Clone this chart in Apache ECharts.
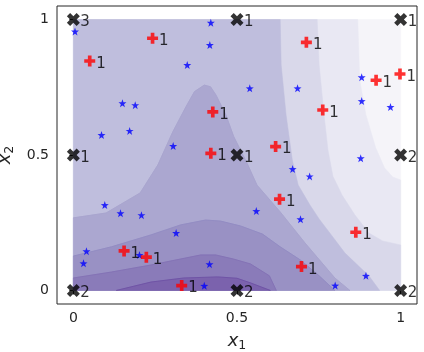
<!DOCTYPE html>
<html><head><meta charset="utf-8">
<script src="https://cdn.jsdelivr.net/npm/echarts@6/dist/echarts.min.js"></script>
<style>html,body{margin:0;padding:0;background:#fff}#c{width:424px;height:352px}</style>
</head><body><div id="c"></div>
<script>
// ---- data ----
const xTicks = [0, 0.5, 1];
const yTicks = [0, 0.5, 1];

const starPoints = [
  [0.005,0.956],[0.42,0.988],[0.417,0.906],[0.348,0.832],[0.150,0.691],[0.189,0.684],
  [0.086,0.574],[0.172,0.589],[0.305,0.533],[0.539,0.746],[0.685,0.746],[0.881,0.787],
  [0.881,0.699],[0.969,0.677],[0.878,0.488],[0.670,0.448],[0.722,0.421],[0.559,0.293],
  [0.694,0.263],[0.894,0.054],[0.800,0.018],[0.096,0.315],[0.144,0.285],[0.208,0.278],
  [0.314,0.212],[0.040,0.145],[0.031,0.100],[0.202,0.131],[0.416,0.097],[0.400,0.017]
];

const plusPoints = [
  [0.242,0.931],[0.050,0.847],[0.426,0.659],[0.420,0.506],[0.712,0.916],[0.925,0.776],
  [0.998,0.799],[0.762,0.666],[0.618,0.531],[0.630,0.337],[0.863,0.215],[0.697,0.088],
  [0.155,0.146],[0.223,0.123],[0.331,0.018]
];
const plusCounts = [1,1,1,1,1,1,1,1,1,1,1,1,1,1,1];

const gridPoints = [[0,0],[0,0.5],[0,1],[0.5,0],[0.5,0.5],[0.5,1],[1,0],[1,0.5],[1,1]];
const gridCounts = [2,1,3,2,1,1,2,2,1];

// contour level colours, lightest to darkest
const levelColors = ['#f5f4f9','#e9e8f3','#d9d8ea','#bfbedd','#aba7d0','#9991c4','#8a7bb9','#7b62ad'];

// contour boundaries, data units
const lineAB = [[0.869,1],[0.875,0.777],[0.894,0.648],[0.924,0.526],[0.951,0.452],[0.976,0.419],[1,0.408]];
const lineBC = [[0.745,1],[0.751,0.832],[0.766,0.648],[0.778,0.518],[0.793,0.422],[0.821,0.352],[0.86,0.279],[0.903,0.212],[0.945,0.183],[1,0.168]];
const lineCD = [[0.632,1],[0.635,0.832],[0.65,0.648],[0.669,0.482],[0.687,0.389],[0.723,0.315],[0.751,0.264],[0.83,0.138],[0.903,0.054],[0.936,0]];
const lineDE = [[0,0.268],[0.10,0.286],[0.204,0.36],[0.258,0.463],[0.304,0.586],[0.344,0.678],[0.37,0.734],[0.40,0.758],[0.419,0.752],[0.436,0.721],[0.466,0.648],[0.49,0.568],[0.531,0.469],[0.561,0.389],[0.632,0.29],[0.708,0.175],[0.799,0.046],[0.845,0]];
const lineEF = [[0,0.127],[0.116,0.161],[0.237,0.205],[0.328,0.242],[0.404,0.26],[0.45,0.256],[0.511,0.238],[0.578,0.208],[0.632,0.161],[0.693,0.113],[0.751,0.054],[0.799,0]];
const lineFG = [[0,0.046],[0.116,0.068],[0.237,0.094],[0.389,0.131],[0.435,0.131],[0.489,0.116],[0.541,0.098],[0.599,0.054],[0.62,0]];
const lineGH = [[0.131,0],[0.237,0.031],[0.337,0.046],[0.441,0.05],[0.50,0.045],[0.541,0.028],[0.602,0]];

// ---- build polygons (superlevel regions) ----
const polygons = [
  [[0,0],[0,1],[1,1],[1,0]],
  [[0,0],[0,1]].concat(lineAB,[[1,0]]),
  [[0,0],[0,1]].concat(lineBC,[[1,0]]),
  [[0,0],[0,1]].concat(lineCD),
  [[0,0]].concat(lineDE),
  [[0,0]].concat(lineEF),
  [[0,0]].concat(lineFG),
  lineGH.slice()
];
const seamLines = [lineDE, lineEF, lineFG, lineGH];
const seamColors = ['#a7a3cd', '#918ac1', '#8170b4', '#6c4fa3'];

const starPath = 'path://M0,-10L2.35,-3.24L9.51,-3.09L3.8,1.24L5.88,8.09L0,4L-5.88,8.09L-3.8,1.24L-9.51,-3.09L-2.35,-3.24Z';
const plusPath = 'path://M-1,-3L1,-3L1,-1L3,-1L3,1L1,1L1,3L-1,3L-1,1L-3,1L-3,-1L-1,-1Z';
const xPath = 'path://M2,-4L4,-2L2,0L4,2L2,4L0,2L-2,4L-4,2L-2,0L-4,-2L-2,-4L0,-2Z';

const FONT = 'DejaVu Sans';
const chart = echarts.init(document.getElementById('c'), null, {renderer:'canvas'});
chart.setOption({
  animation: false,
  backgroundColor: '#fff',
  grid: {left:57, top:6, width:360, height:298, containLabel:false, outerBoundsMode:'none',
         show:true, borderColor:'#262626', borderWidth:1, backgroundColor:'transparent'},
  xAxis: {
    type:'value', min:-0.05, max:1.05,
    axisLine:{show:false}, splitLine:{show:false},
    axisTick:{show:true, length:4, customValues:xTicks, lineStyle:{color:'#262626', width:1}},
    axisLabel:{customValues:xTicks, fontSize:14, color:'#262626', fontFamily:FONT, margin:7},
    name:'{i|x}{s|1}', nameLocation:'middle', nameGap:22,
    nameTextStyle:{rich:{
      i:{fontSize:18, fontStyle:'italic', fontFamily:FONT, color:'#262626', lineHeight:22},
      s:{fontSize:12.5, fontFamily:FONT, color:'#262626', lineHeight:12, padding:[9,0,0,0]}
    }}
  },
  yAxis: {
    type:'value', min:-0.05, max:1.05,
    axisLine:{show:false}, splitLine:{show:false},
    axisTick:{show:true, length:4, customValues:yTicks, lineStyle:{color:'#262626', width:1}},
    axisLabel:{customValues:yTicks, fontSize:14, color:'#262626', fontFamily:FONT, margin:8},
    name:'{i|x}{s|2}', nameLocation:'middle', nameGap:33, nameRotate:90,
    nameTextStyle:{rich:{
      i:{fontSize:18, fontStyle:'italic', fontFamily:FONT, color:'#262626', lineHeight:22},
      s:{fontSize:12.5, fontFamily:FONT, color:'#262626', lineHeight:12, padding:[9,0,0,0]}
    }}
  },
  series: [
    {
      type:'custom', silent:true, z:1,
      data: polygons.map((p,i)=>({value:[0.5,0.5], name:'level'+i})),
      renderItem: function(params, api){
        const poly = polygons[params.dataIndex];
        return {type:'polygon', shape:{points: poly.map(p=>api.coord(p))},
                style:{fill: levelColors[params.dataIndex], stroke: levelColors[params.dataIndex], lineWidth:0.5}};
      }
    },
    {
      type:'custom', silent:true, z:2,
      data: seamLines.map((p,i)=>({value:[0.5,0.5], name:'seam'+i})),
      renderItem: function(params, api){
        const line = seamLines[params.dataIndex];
        return {type:'polyline', shape:{points: line.map(p=>api.coord(p))},
                style:{fill:null, stroke: seamColors[params.dataIndex], lineWidth:0.8}};
      }
    },
    {
      type:'scatter', z:3, symbol:starPath, symbolSize:8,
      itemStyle:{color:'#0000ff'}, data: starPoints
    },
    {
      type:'scatter', z:4, symbol:plusPath, symbolSize:11,
      itemStyle:{color:'#ff0000'},
      data: plusPoints.map((p,i)=>[p[0],p[1],plusCounts[i]]),
      label:{show:true, position:'right', distance:1, offset:[0,3], formatter:(d)=>String(d.value[2]),
             fontSize:15, fontFamily:FONT, color:'#000'}
    },
    {
      type:'scatter', z:5, symbol:xPath, symbolSize:13,
      itemStyle:{color:'#000'},
      data: gridPoints.map((p,i)=>[p[0],p[1],gridCounts[i]]),
      label:{show:true, position:'right', distance:0.5, offset:[0,3], formatter:(d)=>String(d.value[2]),
             fontSize:15, fontFamily:FONT, color:'#000'}
    }
  ]
});
</script></body></html>
